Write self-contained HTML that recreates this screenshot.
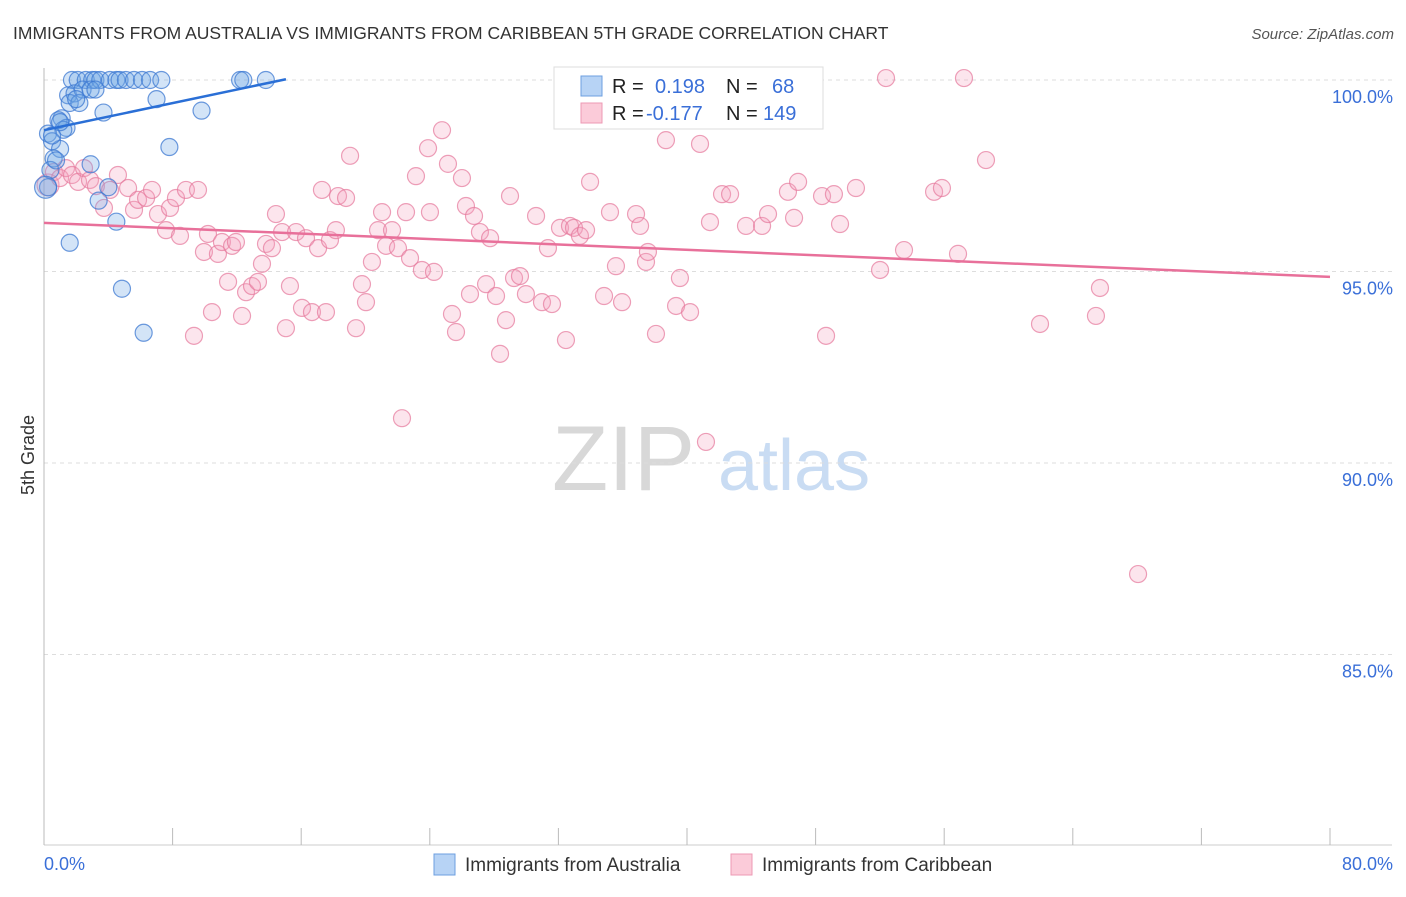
<!DOCTYPE html>
<html><head><meta charset="utf-8">
<style>
body{margin:0;background:#fff;font-family:"Liberation Sans",sans-serif;}
svg text{font-family:"Liberation Sans",sans-serif;}
</style></head>
<body>
<svg id="chart" width="1406" height="892" viewBox="0 0 1406 892">
<text x="13" y="39" font-size="17.5" fill="#333">IMMIGRANTS FROM AUSTRALIA VS IMMIGRANTS FROM CARIBBEAN 5TH GRADE CORRELATION CHART</text>
<text x="1394" y="39" font-size="15" fill="#555" font-style="italic" text-anchor="end">Source: ZipAtlas.com</text>
<g>
<text x="552" y="490" font-size="92" fill="#d8d8d8" font-family="Liberation Serif">ZIP</text>
<text x="718" y="490" font-size="72" fill="#c9dcf3">atlas</text>
</g>
<g id="grid"></g>
<g id="axes"></g>
<g id="marks"></g>
<text transform="translate(34,455) rotate(-90)" font-size="18" fill="#333" text-anchor="middle">5th Grade</text>
<g>
<rect x="554" y="67" width="269" height="62" fill="#fff" stroke="#ddd"/>
<rect x="581" y="76" width="21" height="20" fill="#b7d3f5" stroke="#6c9fe0"/>
<rect x="581" y="103" width="21" height="20" fill="#fbcbd9" stroke="#ec9ab4"/>
<text x="612" y="93" font-size="20" fill="#222">R = <tspan fill="#3a6fd8" x="655">0.198</tspan><tspan x="726">N =</tspan><tspan fill="#3a6fd8" x="772">68</tspan></text>
<text x="612" y="120" font-size="20" fill="#222">R = <tspan fill="#3a6fd8" x="646">-0.177</tspan><tspan x="726">N =</tspan><tspan fill="#3a6fd8" x="763">149</tspan></text>
</g>
<g>
<rect x="434" y="854" width="21" height="21" fill="#b7d3f5" stroke="#6c9fe0"/>
<text x="465" y="871" font-size="19" fill="#333">Immigrants from Australia</text>
<rect x="731" y="854" width="21" height="21" fill="#fbcbd9" stroke="#ec9ab4"/>
<text x="762" y="871" font-size="19" fill="#333">Immigrants from Caribbean</text>
</g>
</svg>
<script>
const blueX=[1.74,2.1,2.6,3.0,3.2,3.5,4.1,4.5,4.7,5.1,5.6,6.1,6.6,7.3,12.2,12.4,13.8,1.5,1.9,2.4,2.9,3.2,1.6,2.2,2.0,1.1,0.9,1.4,1.2,3.7,7.0,9.8,0.25,0.5,1.0,0.6,0.4,0.75,2.9,0.25,4.0,3.4,1.6,4.85,6.2,7.8,4.5,0.1,0.5,1.0];
const blueY=[100,100,100,100,100,100,100,100,100,100,100,100,100,100,100,100,100,99.6,99.65,99.75,99.75,99.75,99.4,99.4,99.5,99.0,98.95,98.75,98.7,99.15,99.5,99.2,98.6,98.4,98.2,97.95,97.65,97.9,97.8,97.2,97.2,96.85,95.75,94.55,93.4,98.25,96.3,97.2,98.55,98.9];
const pinkX=[0.25,0.62,1.0,1.37,1.74,2.12,2.49,2.86,3.23,3.73,4.11,4.6,5.23,5.6,5.85,6.35,6.72,7.09,7.59,7.84,8.21,8.46,8.83,9.33,9.58,9.95,10.2,10.45,10.82,11.07,11.45,11.7,11.94,12.32,12.57,12.94,13.31,13.56,13.81,14.18,14.43,14.81,15.05,15.3,15.68,16.05,16.3,16.67,17.05,17.29,17.54,17.79,18.16,18.29,18.79,19.04,19.41,19.78,20.03,20.4,20.78,21.03,21.28,21.65,22.02,22.27,22.52,22.77,23.14,23.51,23.89,24.01,24.26,24.76,25.13,25.38,25.63,26.0,26.25,26.5,26.75,27.12,27.5,27.75,28.12,28.37,28.74,28.99,29.24,29.61,29.98,30.61,30.98,31.35,31.6,32.1,32.47,32.72,32.97,33.34,33.72,33.97,34.84,35.21,35.58,35.96,36.83,37.08,37.45,37.57,38.07,38.69,39.32,39.56,40.19,40.81,41.18,41.43,42.18,42.68,43.67,44.67,45.04,46.28,46.66,46.91,48.4,48.65,49.14,49.52,50.51,52.01,52.38,53.5,55.37,55.86,56.86,57.23,58.6,61.96,65.44,65.69,68.06];
const pinkY=[97.26,97.6,97.44,97.7,97.52,97.34,97.7,97.39,97.23,96.66,97.13,97.52,97.18,96.61,96.87,96.92,97.13,96.5,96.08,96.66,96.92,95.93,97.13,93.32,97.13,95.51,95.98,93.94,95.46,95.77,94.73,95.67,95.77,93.84,94.46,94.62,94.73,95.2,95.72,95.61,96.5,96.03,93.52,94.62,96.03,94.05,95.87,93.94,95.61,97.13,93.94,95.82,96.08,96.97,96.92,98.02,93.52,94.67,94.2,95.25,96.08,96.55,95.67,96.08,95.61,91.17,96.55,95.35,97.49,95.04,98.22,96.55,94.99,98.69,97.81,93.89,93.42,97.44,96.71,94.41,96.45,96.03,94.67,95.87,94.36,92.85,93.73,96.97,94.83,94.88,94.41,96.45,94.2,95.61,94.15,96.14,93.21,96.19,96.14,95.93,96.08,97.34,94.36,96.55,95.14,94.2,96.5,96.19,95.25,95.51,93.37,98.43,94.1,94.83,93.94,98.33,90.55,96.29,97.02,97.02,96.19,96.19,96.5,97.08,96.4,97.34,96.97,93.32,97.02,96.24,97.18,95.04,100.05,95.56,97.08,97.18,95.46,100.05,97.91,93.63,93.84,94.57,87.1];
const blueTrendX=[0,15.05];
const blueTrendY=[98.69,100.02];
const pinkTrendX=[0,80];
const pinkTrendY=[96.27,94.86];
const yTicks=[100,95,90,85];
const yTickLabels=["100.0%","95.0%","90.0%","85.0%"];
const xTicks=[0,10,20,30,40,50,60,70,80];
const xMinorTicks=[0,8,16,24,32,40,48,56,64,72,80];
const xEndLabels=["0.0%","80.0%"];

const NS="http://www.w3.org/2000/svg";
const sx=v=>44+v*(1286/80);
const sy=v=>80+(100-v)*38.3;
function mk(tag,attrs,parent){const e=document.createElementNS(NS,tag);for(const k in attrs)e.setAttribute(k,attrs[k]);parent.appendChild(e);return e;}
const grid=document.getElementById('grid'),axes=document.getElementById('axes'),marks=document.getElementById('marks');
yTicks.forEach((t,i)=>{
  const l=mk('line',{x1:44,x2:1392,y1:sy(t),y2:sy(t),stroke:'#ddd','stroke-dasharray':'4,4'},grid);
  
  
  const tx=mk('text',{x:1393,y:sy(t)+23,'font-size':18,fill:'#3a6fd8','text-anchor':'end'},axes);
  tx.textContent=yTickLabels[i];
  
  
});
const ya=mk('line',{x1:44,x2:44,y1:68,y2:845,stroke:'#bbb'},axes);


const xa=mk('line',{x1:44,x2:1392,y1:845,y2:845,stroke:'#ccc'},axes);


xMinorTicks.forEach(t=>{
  const l=mk('line',{x1:sx(t),x2:sx(t),y1:828,y2:845,stroke:'#bbb'},axes);
  
  
});
const xl0=mk('text',{x:44,y:870,'font-size':18,fill:'#3a6fd8'},axes);
xl0.textContent=xEndLabels[0];


const xl1=mk('text',{x:1393,y:870,'font-size':18,fill:'#3a6fd8','text-anchor':'end'},axes);
xl1.textContent=xEndLabels[1];



pinkX.forEach((x,i)=>{
  const c=mk('circle',{cx:sx(x),cy:sy(pinkY[i]),r:i===0?11:8.5,fill:'rgba(245,160,190,0.28)',stroke:'rgba(230,120,155,0.7)','stroke-width':1.2},marks);
  
  
});
blueX.forEach((x,i)=>{
  const c=mk('circle',{cx:sx(x),cy:sy(blueY[i]),r:i===47?11:8.5,fill:'rgba(110,165,230,0.3)',stroke:'rgba(60,120,210,0.75)','stroke-width':1.2},marks);
  
  
});
const tb=mk('line',{x1:sx(blueTrendX[0]),y1:sy(blueTrendY[0]),x2:sx(blueTrendX[1]),y2:sy(blueTrendY[1]),stroke:'#2a6fd6','stroke-width':2.5},marks);


const tp=mk('line',{x1:sx(pinkTrendX[0]),y1:sy(pinkTrendY[0]),x2:sx(pinkTrendX[1]),y2:sy(pinkTrendY[1]),stroke:'#e8709a','stroke-width':2.5},marks);


</script>
</body></html>
